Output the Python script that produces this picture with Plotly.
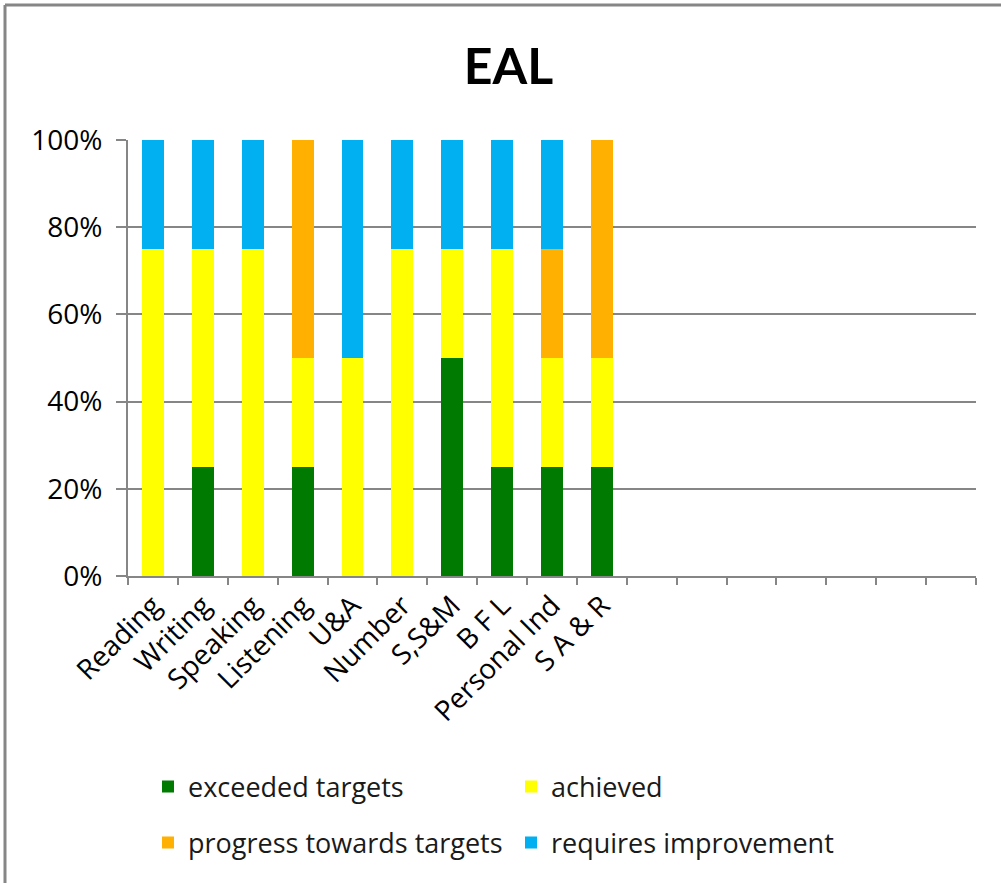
import plotly.graph_objects as go

categories = ["Reading", "Writing", "Speaking", "Listening", "U&A", "Number",
              "S,S&M", "B F L", "Personal Ind", "S A & R"]
n_empty = 7
exceeded = [0, 25, 0, 25, 0, 0, 50, 25, 25, 25]
achieved = [75, 50, 75, 25, 50, 75, 25, 50, 25, 25]
progress = [0, 0, 0, 50, 0, 0, 0, 0, 25, 50]
requires = [25, 25, 25, 0, 50, 25, 25, 25, 25, 0]
series_names = ["exceeded targets", "achieved", "progress towards targets", "requires improvement"]
colors = ["#007A00", "#FFFF00", "#FFB000", "#00B0F0"]
y_ticks = [0, 20, 40, 60, 80, 100]

empty_cats = [" " * (i + 1) for i in range(n_empty)]
all_cats = categories + empty_cats

FONT = "Open Sans"
fig = go.Figure()
legends = ["legend", "legend", "legend2", "legend2"]
for name, vals, col, lg in zip(series_names, [exceeded, achieved, progress, requires], colors, legends):
    fig.add_trace(go.Bar(x=categories, y=vals, name=name, marker=dict(color=col, line=dict(width=0)),
                         legend=lg))

L, R, T, B = 128, 25, 140, 307
W, H = 1001, 883
pw, ph = W - L - R, H - T - B

legend_common = dict(orientation="h", xanchor="left", yanchor="middle",
                     entrywidth=318, entrywidthmode="pixels", font=dict(family=FONT, size=27, color="#1a1a1a"),
                     itemclick=False, traceorder="normal", bgcolor="rgba(0,0,0,0)")

fig.update_layout(
    width=W, height=H,
    margin=dict(l=L, r=R, t=T, b=B, autoexpand=False),
    barmode="stack", bargap=0.56,
    paper_bgcolor="white", plot_bgcolor="white",
    font=dict(family=FONT, size=26, color="#000000"),
    title=dict(text="<b>EAL</b>", x=0.508, xanchor="center", y=1 - 66 / H, yanchor="middle",
               font=dict(family="Lato", size=50, color="#000000")),
    xaxis=dict(type="category", categoryorder="array", categoryarray=all_cats,
               tickvals=all_cats, range=[-0.5, len(all_cats) - 0.5],
               tickson="boundaries", ticks="outside", ticklen=7, tickcolor="#868686", tickwidth=2,
               showline=True, linecolor="#868686", linewidth=2, showgrid=False,
               tickangle=-45, tickfont=dict(family=FONT, size=28, color="#000000")),
    yaxis=dict(range=[0, 100], tickvals=y_ticks, ticktext=[f"{v}%" for v in y_ticks],
               showgrid=True, gridcolor="#868686", gridwidth=2, zeroline=False,
               showline=True, linecolor="#868686", linewidth=2,
               ticks="outside", ticklen=10, tickcolor="#868686", tickwidth=2,
               ticklabelstandoff=8, tickfont=dict(family=FONT, size=28, color="#000000")),
    legend=dict(x=(148 - L) / pw, y=-(787 - 576) / ph, **legend_common),
    legend2=dict(x=(148 - L) / pw, y=-(843 - 576) / ph, **legend_common),
    shapes=[
        dict(type="line", xref="paper", yref="paper", x0=(5 - L) / pw, x1=(W - L) / pw + 0.01,
             y0=1 + (T - 5) / ph, y1=1 + (T - 5) / ph, line=dict(color="#868686", width=3)),
        dict(type="line", xref="paper", yref="paper", x0=(5 - L) / pw, x1=(5 - L) / pw,
             y0=1 + (T - 5) / ph, y1=-(B + 5) / ph, line=dict(color="#868686", width=3)),
    ],
)

fig.write_html("out.html", config={"displayModeBar": False},
               post_script="document.body.style.margin='0px';")
